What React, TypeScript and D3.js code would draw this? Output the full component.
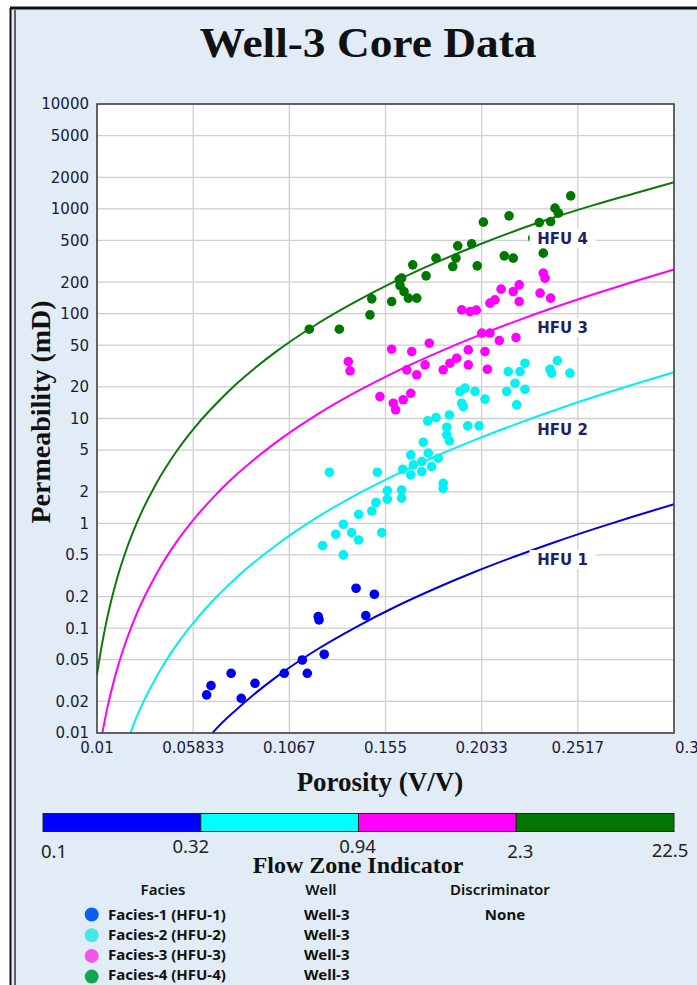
import React from "react";
import * as d3 from "d3";

// ---------- axis ticks ----------
const xTickValues = [0.01, 0.058333, 0.106667, 0.155, 0.203333, 0.251667, 0.3];
const xTickLabels = ["0.01", "0.05833", "0.1067", "0.155", "0.2033", "0.2517", "0.3"];
const yTickValues = [0.01, 0.02, 0.05, 0.1, 0.2, 0.5, 1, 2, 5, 10, 20, 50, 100, 200, 500, 1000, 2000, 5000, 10000];
const yTickLabels = ["0.01", "0.02", "0.05", "0.1", "0.2", "0.5", "1", "2", "5", "10", "20", "50", "100", "200", "500", "1000", "2000", "5000", "10000"];

// ---------- HFU model lines (porosity, permeability) ----------
const hfu4Line: [number, number][] = [
  [0.01, 0.036], [0.012, 0.062], [0.015, 0.122], [0.02, 0.293], [0.025, 0.578], [0.03, 1.01],
  [0.04, 2.44], [0.05, 4.87], [0.06, 8.6], [0.07, 13.9], [0.08, 21.3], [0.1, 43.4], [0.12, 78.4],
  [0.14, 130], [0.16, 204], [0.18, 305], [0.2, 440], [0.22, 615], [0.24, 830], [0.26, 1090],
  [0.28, 1400], [0.3, 1790],
];
const hfu3Line: [number, number][] = [
  [0.0127, 0.01], [0.015, 0.0167], [0.02, 0.04], [0.025, 0.0788], [0.03, 0.138], [0.04, 0.333],
  [0.05, 0.665], [0.06, 1.17], [0.07, 1.9], [0.08, 2.9], [0.1, 5.92], [0.12, 10.7], [0.14, 17.8],
  [0.16, 27.9], [0.18, 41.6], [0.2, 60.0], [0.22, 84.0], [0.24, 115], [0.26, 154], [0.28, 203], [0.3, 264],
];
const hfu2Line: [number, number][] = [
  [0.0268, 0.01], [0.03, 0.0144], [0.04, 0.0347], [0.05, 0.0693], [0.06, 0.122], [0.07, 0.198],
  [0.08, 0.303], [0.1, 0.618], [0.12, 1.12], [0.14, 1.86], [0.16, 2.9], [0.18, 4.34], [0.2, 6.25],
  [0.22, 8.75], [0.24, 12.0], [0.26, 16.1], [0.28, 21.2], [0.3, 27.6],
];
const hfu1Line: [number, number][] = [
  [0.0681, 0.01], [0.07, 0.011], [0.08, 0.0167], [0.1, 0.0341], [0.12, 0.0616], [0.14, 0.102],
  [0.16, 0.16], [0.18, 0.239], [0.2, 0.345], [0.22, 0.483], [0.24, 0.661], [0.26, 0.886],
  [0.28, 1.17], [0.3, 1.52],
];
const hfuNames = ["HFU 1", "HFU 2", "HFU 3", "HFU 4"];
const hfuLabelPhi = 0.244;
const hfuLabelK = [0.4, 6.97, 65.2, 463];

// ---------- core data points (porosity, permeability) ----------
const facies1: [number, number][] = [
  [0.0651, 0.0231], [0.0673, 0.0283], [0.0774, 0.0371], [0.0825, 0.0214], [0.0894, 0.0298],
  [0.1041, 0.0371], [0.1132, 0.0497], [0.1157, 0.0371], [0.1212, 0.1288], [0.1216, 0.1197],
  [0.1242, 0.0564], [0.1402, 0.2403], [0.1451, 0.1316], [0.1494, 0.2107],
];
const facies2: [number, number][] = [
  [0.1234, 0.613], [0.1338, 0.5], [0.1268, 3.07], [0.13, 0.787], [0.1338, 0.98], [0.138, 0.815],
  [0.1415, 0.694], [0.1415, 1.22], [0.1481, 1.31], [0.1502, 1.58], [0.1531, 0.815], [0.1509, 3.07],
  [0.1559, 2.05], [0.1559, 1.7], [0.1631, 2.08], [0.1631, 1.74], [0.1636, 3.28], [0.1677, 4.5],
  [0.1677, 2.9], [0.169, 3.61], [0.1732, 3.88], [0.1732, 3.11], [0.174, 5.94], [0.1765, 4.67],
  [0.1782, 3.48], [0.1815, 4.18], [0.184, 2.41], [0.184, 2.16], [0.1762, 9.49], [0.1804, 10.2],
  [0.1871, 10.8], [0.1858, 8.26], [0.1858, 6.98], [0.1871, 6.11], [0.1963, 8.5], [0.202, 8.5],
  [0.1924, 18.1], [0.195, 19.5], [0.2, 18.1], [0.1933, 14.0], [0.205, 15.3], [0.2159, 18.1],
  [0.2167, 28.0], [0.2201, 21.7], [0.2209, 13.5], [0.2226, 28.0], [0.2251, 33.7], [0.2251, 19.0],
  [0.2377, 29.5], [0.2414, 35.7], [0.2385, 27.1], [0.2477, 27.1], [0.1941, 13.0],
];
const facies3: [number, number][] = [
  [0.1363, 34.9], [0.1372, 28.5], [0.1581, 45.8], [0.1522, 16.2], [0.1589, 14.0], [0.1601, 12.1],
  [0.1639, 15.1], [0.1677, 17.4], [0.1682, 43.5], [0.177, 52.3], [0.1657, 29.1], [0.1707, 26.1],
  [0.1749, 32.5], [0.184, 29.1], [0.1874, 33.7], [0.1908, 37.6], [0.1966, 32.5], [0.1966, 45.1],
  [0.2062, 29.5], [0.205, 43.5], [0.2122, 55.4], [0.2034, 65.2], [0.2075, 65.2], [0.2206, 59.2],
  [0.1933, 108.7], [0.1975, 104.7], [0.2006, 108], [0.2075, 126], [0.21, 135.4], [0.2131, 171.3],
  [0.2192, 162.5], [0.2222, 188.3], [0.2222, 130.5], [0.2327, 156.9], [0.2343, 243.5],
  [0.2352, 218.2], [0.238, 140.6],
];
const facies4: [number, number][] = [
  [0.1167, 71.1], [0.1318, 71.1], [0.1472, 97.4], [0.1481, 138.4], [0.1581, 130.5], [0.1619, 210.2],
  [0.1631, 218.2], [0.1623, 185.4], [0.1643, 162.5], [0.1665, 140.6], [0.1707, 140.6], [0.1687, 292.2],
  [0.1754, 229.5], [0.1804, 338.6], [0.1888, 281.4], [0.1904, 338.6], [0.1913, 443.6], [0.1983, 463.4],
  [0.2011, 285.8], [0.2042, 746.5], [0.2147, 356.1], [0.2192, 338.6], [0.2171, 857.6], [0.229, 525.4],
  [0.2323, 740.1], [0.2343, 377.8], [0.238, 756.5], [0.2402, 1015.5], [0.2419, 909.8], [0.2481, 1330],
];

// ---------- FZI colour bar & legend ----------
const fziBounds = ["0.1", "0.32", "0.94", "2.3", "22.5"];
const faciesNames = ["Facies-1 (HFU-1)", "Facies-2 (HFU-2)", "Facies-3 (HFU-3)", "Facies-4 (HFU-4)"];
const wellNames = ["Well-3", "Well-3", "Well-3", "Well-3"];
const discriminator = "None";

// styles
const lineColors = ["#0000e6", "#00f0f0", "#ff00ff", "#0b780b"];
const pointColors = ["#0000f0", "#00f2f2", "#ff00ff", "#007800"];
const barColors = ["#0000ff", "#00ffff", "#ff00ff", "#007800"];
const legendColors = ["#0a5ef0", "#44e8e8", "#f455ec", "#12a650"];
const fziLabelAnchor = ["start", "middle", "middle", "middle", "middle"];
const fziLabelDx = [-2, -10, -1, 4, -4];
const fziLabelY = [858, 853, 853, 858, 857];

const serif = "'Liberation Serif', 'Times New Roman', serif";
const sans = "'DejaVu Sans', Verdana, sans-serif";
const uiSans = "'Noto Sans', 'Open Sans', sans-serif";

export default function App() {
  const left = 97, right = 674, top = 104, bottom = 733;
  const x = d3.scaleLinear().domain([0.01, 0.3]).range([left, right]);
  const y = d3.scaleLog().domain([0.01, 10000]).range([bottom, top]);
  const line = d3
    .line<[number, number]>()
    .x((d) => x(d[0]))
    .y((d) => y(d[1]))
    .curve(d3.curveMonotoneX);

  const lines = [hfu1Line, hfu2Line, hfu3Line, hfu4Line];
  const points = [facies1, facies2, facies3, facies4];

  const bar = d3.scaleLinear().domain([0, 4]).range([43, 674]);

  return (
    <svg
      width={697}
      height={985}
      style={{ position: "absolute", left: 0, top: 0, display: "block" }}
    >
      <rect x={0} y={0} width={697} height={985} fill="#ffffff" />
      <rect x={10} y={8} width={720} height={1000} fill="#e2ecf6" />
      {/* frame */}
      <line x1={10} y1={8} x2={697} y2={8} stroke="#111" strokeWidth={3} />
      <line x1={10.5} y1={8} x2={10.5} y2={985} stroke="#111" strokeWidth={2} />
      <line x1={15} y1={10} x2={15} y2={985} stroke="#333" strokeWidth={1.5} />

      {/* title */}
      <text
        x={368}
        y={57}
        textAnchor="middle"
        fontFamily={serif}
        fontWeight="bold"
        fontSize={43}
        textLength={337}
        lengthAdjust="spacingAndGlyphs"
        fill="#111"
      >
        Well-3 Core Data
      </text>

      {/* plot area */}
      <rect x={left} y={top} width={right - left} height={bottom - top} fill="#fff" />
      <g stroke="#cfcfcf" strokeWidth={1.3}>
        {yTickValues.map((v, i) => (
          <line key={"gy" + i} x1={left} x2={right} y1={y(v)} y2={y(v)} />
        ))}
        {xTickValues.map((v, i) => (
          <line key={"gx" + i} x1={x(v)} x2={x(v)} y1={top} y2={bottom} />
        ))}
      </g>

      {/* HFU lines */}
      <g fill="none" strokeWidth={2}>
        {lines.map((l, i) => (
          <path key={"l" + i} d={line(l) || ""} stroke={lineColors[i]} />
        ))}
      </g>

      {/* points */}
      {points.map((pts, i) => (
        <g key={"p" + i} fill={pointColors[i]}>
          {pts.map((d, j) => (
            <circle key={j} cx={x(d[0])} cy={y(d[1])} r={4.8} />
          ))}
        </g>
      ))}

      {/* HFU labels */}
      {hfuNames.map((n, i) => (
        <g key={"h" + i}>
          <rect
            x={x(hfuLabelPhi) - 33}
            y={y(hfuLabelK[i]) - 15}
            width={66}
            height={19}
            fill="#fff"
          />
          <text
            x={x(hfuLabelPhi)}
            y={y(hfuLabelK[i])}
            textAnchor="middle"
            fontFamily={sans}
            fontWeight="bold"
            fontSize={15}
            fill="#1f1f6b"
          >
            {n}
          </text>
        </g>
      ))}

      <rect
        x={left}
        y={top}
        width={right - left}
        height={bottom - top}
        fill="none"
        stroke="#444"
        strokeWidth={1.6}
      />

      {/* tick labels */}
      <g fontFamily={sans} fontSize={15} fill="#1a1a3a">
        {yTickValues.map((v, i) => (
          <text key={"ty" + i} x={89} y={y(v)} dy="0.36em" textAnchor="end">
            {yTickLabels[i]}
          </text>
        ))}
        {xTickValues.map((v, i) => (
          <text
            key={"tx" + i}
            x={i === xTickValues.length - 1 ? x(v) + 1 : x(v)}
            y={753}
            textAnchor={i === xTickValues.length - 1 ? "start" : "middle"}
          >
            {xTickLabels[i]}
          </text>
        ))}
      </g>

      {/* axis titles */}
      <text
        x={380}
        y={791}
        textAnchor="middle"
        fontFamily={serif}
        fontWeight="bold"
        fontSize={27}
        fill="#111"
      >
        Porosity (V/V)
      </text>
      <text
        transform="translate(50,412) rotate(-90)"
        textAnchor="middle"
        fontFamily={serif}
        fontWeight="bold"
        fontSize={28}
        fill="#111"
      >
        Permeability (mD)
      </text>

      {/* colour bar */}
      {barColors.map((c, i) => (
        <rect
          key={"b" + i}
          x={bar(i)}
          y={813.5}
          width={bar(i + 1) - bar(i)}
          height={18}
          fill={c}
          stroke="#222"
          strokeWidth={1}
        />
      ))}
      <g fontFamily={uiSans} fontSize={18.5} fill="#222">
        {fziBounds.map((t, i) => (
          <text
            key={"f" + i}
            x={bar(i) + fziLabelDx[i]}
            y={fziLabelY[i]}
            textAnchor={fziLabelAnchor[i] as any}
          >
            {t}
          </text>
        ))}
      </g>
      <text
        x={358}
        y={872.5}
        textAnchor="middle"
        fontFamily={serif}
        fontWeight="bold"
        fontSize={24}
        fill="#111"
      >
        Flow Zone Indicator
      </text>

      {/* legend */}
      <g fontFamily={uiSans} fontWeight="bold" fontSize={15} fill="#111">
        <text x={163} y={895} textAnchor="middle" fontWeight={600}>Facies</text>
        <text x={321} y={895} textAnchor="middle" fontWeight={600}>Well</text>
        <text x={500} y={895} textAnchor="middle" fontWeight={600}>Discriminator</text>
        {faciesNames.map((n, i) => (
          <g key={"lg" + i}>
            <circle cx={91.7} cy={914.5 + i * 20.7} r={7} fill={legendColors[i]} />
            <text x={108} y={919.5 + i * 20.2}>{n}</text>
            <text x={304} y={919.5 + i * 20.2}>{wellNames[i]}</text>
          </g>
        ))}
        <text x={505} y={919.5} textAnchor="middle">{discriminator}</text>
      </g>
    </svg>
  );
}
